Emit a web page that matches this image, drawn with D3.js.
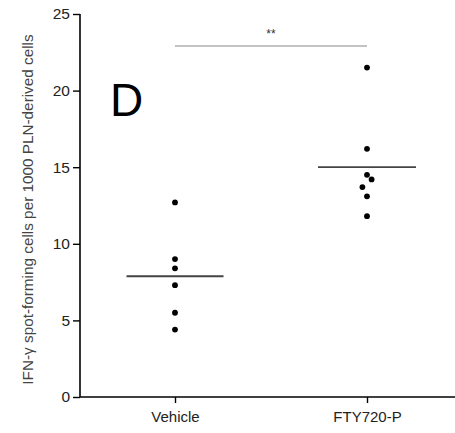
<!DOCTYPE html>
<html><head><meta charset="utf-8">
<script src="https://cdn.jsdelivr.net/npm/d3@7"></script>
<style>body{margin:0;background:#fff}svg{display:block}text{font-family:"Liberation Sans",Arial,sans-serif}</style>
</head><body>
<script>
const categories = ["Vehicle", "FTY720-P"];
const vehicleValues = [12.7, 9.0, 8.4, 7.3, 5.5, 4.4];
const ftyValues = [21.5, 16.2, 14.5, 14.2, 13.7, 13.1, 11.8];
const ftyJitter = [0, 0, 0, 1, -1, 0, 0];
const yTicks = [0, 5, 10, 15, 20, 25];
const yLabel = "IFN-\u03b3 spot-forming cells per 1000 PLN-derived cells";
const panelLetter = "D";
const sigLabel = "**";

const W = 455, H = 433;
const FONT = "Liberation Sans, Arial, sans-serif";
const svg = d3.select("body").append("svg").attr("width", W).attr("height", H);
const y = d3.scaleLinear().domain([0, 25]).range([397, 14]);
const x = d3.scalePoint().domain(categories).range([175, 367]);
const left = 80;

// axes
const yAxis = d3.axisLeft(y).tickValues(yTicks).tickSize(7).tickPadding(3).tickSizeOuter(0);
const gy = svg.append("g").attr("transform", `translate(${left},0)`).call(yAxis);
gy.select(".domain").attr("stroke", "#000").attr("stroke-width", 1.6).attr("d", `M0,${y(25)}V${y(0)}`);
gy.selectAll(".tick line").attr("stroke", "#000").attr("stroke-width", 1.4);
gy.selectAll(".tick text").attr("font-size", 15.5).attr("fill", "#222").style("font-family", FONT);

const xAxis = d3.axisBottom(x).tickSize(6).tickPadding(8).tickSizeOuter(0);
const gx = svg.append("g").attr("transform", `translate(0,${y(0)})`).call(xAxis);
gx.select(".domain").attr("stroke", "#000").attr("stroke-width", 1.6).attr("d", `M${left},0H${W}`);
gx.selectAll(".tick line").attr("stroke", "#000").attr("stroke-width", 1.4);
gx.selectAll(".tick text").attr("font-size", 15).attr("fill", "#222").style("font-family", FONT);

// y label
svg.append("text")
  .attr("transform", `translate(32.5,209.5) rotate(-90)`)
  .attr("text-anchor", "middle").attr("font-size", 15.3).attr("fill", "#444")
  .style("font-family", FONT)
  .text(yLabel);

// panel letter
svg.append("text").attr("x", 110).attr("y", 116).attr("font-size", 46).attr("fill", "#000").style("font-family", FONT).text(panelLetter);

// means and points
const groups = [
  {cat: categories[0], vals: vehicleValues, jit: vehicleValues.map(() => 0), half: 48.5},
  {cat: categories[1], vals: ftyValues, jit: ftyJitter, half: 49}
];
groups.forEach(g => {
  const m = d3.mean(g.vals);
  svg.append("line").attr("x1", x(g.cat) - g.half).attr("x2", x(g.cat) + g.half)
    .attr("y1", y(m)).attr("y2", y(m)).attr("stroke", "#444").attr("stroke-width", 1.8);
  svg.selectAll(null).data(g.vals).enter().append("circle")
    .attr("cx", (d, i) => x(g.cat) + g.jit[i] * 4.6).attr("cy", d => y(d)).attr("r", 2.9).attr("fill", "#000");
});

// significance bar
const sigY = 46;
svg.append("line").attr("x1", x(categories[0])).attr("x2", x(categories[1]))
  .attr("y1", sigY).attr("y2", sigY).attr("stroke", "#888").attr("stroke-width", 1.2);
svg.append("text").attr("x", (x(categories[0]) + x(categories[1])) / 2).attr("y", 38)
  .attr("text-anchor", "middle").attr("font-size", 12).attr("fill", "#333").style("font-family", FONT).text(sigLabel);
</script>
</body></html>
